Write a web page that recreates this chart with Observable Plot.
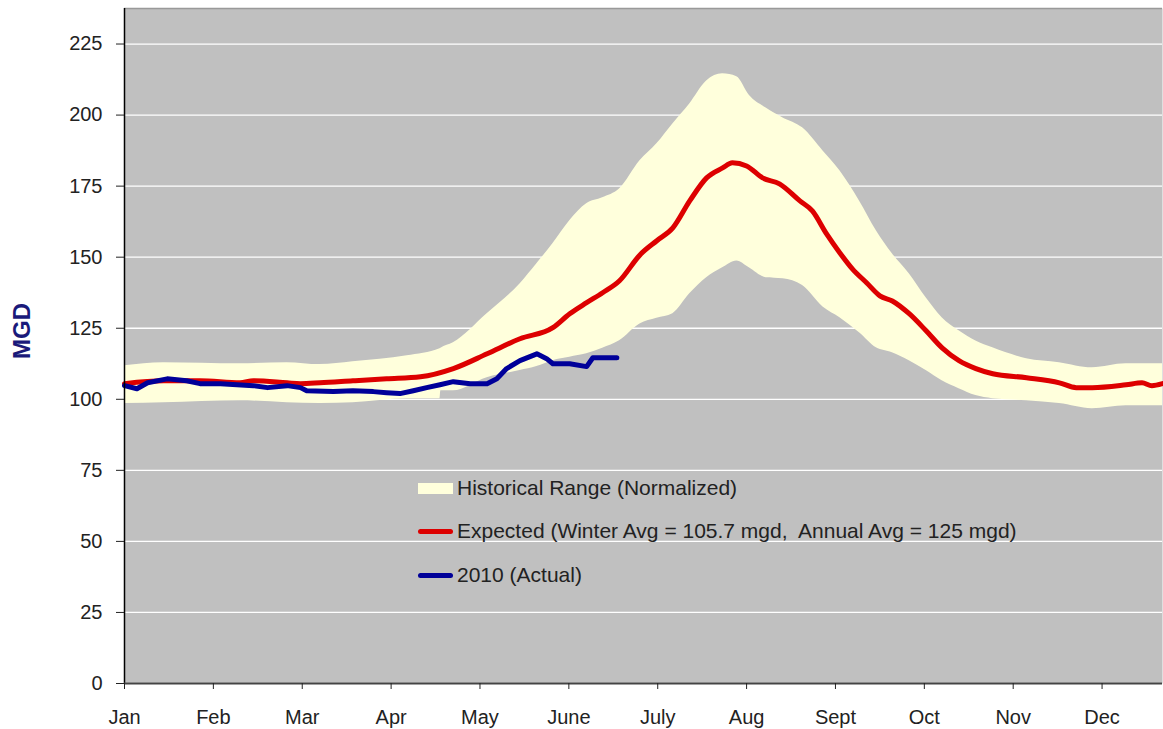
<!DOCTYPE html>
<html>
<head>
<meta charset="utf-8">
<script src="https://cdn.jsdelivr.net/npm/d3@7"></script>
<script src="https://cdn.jsdelivr.net/npm/@observablehq/plot@0.6"></script>
<style>
  html, body { margin: 0; padding: 0; background: #fff; }
  #wrap { position: relative; width: 1163px; height: 729px; font-family: "Liberation Sans", Arial, sans-serif; }
  .leg { position: absolute; left: 418px; display: flex; align-items: center; font-size: 21px; color: #222; white-space: pre; height: 24px; }
  .sw { width: 35px; margin-right: 4px; }
</style>
</head>
<body>
<div id="wrap"></div>
<script>
// Month labels (x axis), months measured as fractional months from Jan 1
const monthLabels = ["Jan","Feb","Mar","Apr","May","June","July","Aug","Sept","Oct","Nov","Dec"];
const monthTicks = [0,1,2,3,4,5,6,7,8,9,10,11];
const yTicks = [0,25,50,75,100,125,150,175,200,225];

// Historical range band
const bandMonth = [0.00,0.44,1.30,1.83,2.20,2.57,3.18,3.55,3.56,3.70,4.08,4.45,4.64,4.82,5.01,5.20,5.38,5.57,5.80,5.99,6.17,6.36,6.55,6.73,6.89,7.03,7.22,7.41,7.63,7.86,8.05,8.27,8.46,8.64,8.83,9.02,9.20,9.39,9.58,9.77,10.15,10.52,10.89,11.27,11.68];
const bandUpper = [111.8,112.9,112.5,112.9,112.2,113.2,115.3,117.8,118.0,119.9,130.1,140.6,147.7,154.7,162.8,168.8,170.9,174.0,183.9,189.9,196.9,203.9,212.0,214.5,213.5,207.0,202.5,199.0,195.5,187.4,180.4,169.8,159.3,151.2,144.2,135.7,128.7,124.1,120.5,118.1,114.3,112.9,111.1,112.5,112.5];
const bandLower = [98.5,98.8,99.5,98.8,98.5,98.8,100.2,100.2,103.0,103.0,107.6,110.1,111.5,113.6,114.8,116.0,118.0,120.6,126.5,128.5,130.1,137.1,142.8,146.3,148.7,146.3,142.8,142.4,140.0,132.5,128.7,123.4,118.1,116.4,113.6,110.1,106.5,103.7,101.3,100.2,99.5,98.5,96.7,97.7,97.7];

// Expected
const expMonth = [0.00,0.44,0.85,1.30,1.45,1.83,1.98,2.20,2.57,2.95,3.33,3.70,4.08,4.45,4.82,5.01,5.20,5.38,5.57,5.80,5.99,6.17,6.36,6.55,6.73,6.84,7.00,7.18,7.37,7.60,7.74,7.90,8.05,8.19,8.35,8.50,8.64,8.83,9.02,9.20,9.39,9.58,9.77,10.15,10.52,10.71,10.89,11.27,11.45,11.56,11.68];
const expValue = [105.5,106.5,106.5,105.8,106.5,105.8,105.5,105.8,106.5,107.2,107.9,110.8,116.0,121.3,125.2,130.1,134.0,137.5,141.7,150.8,155.8,160.3,169.8,177.9,181.4,183.2,182.1,177.9,175.8,169.8,166.3,158.2,151.5,145.9,141.0,136.4,134.6,130.1,124.1,118.1,113.6,110.8,109.0,107.6,105.8,104.1,104.1,105.1,105.8,104.8,105.5];

// 2010 actual
const actMonth = [0.00,0.14,0.26,0.48,0.70,0.85,1.08,1.45,1.61,1.83,1.98,2.05,2.35,2.57,2.80,2.95,3.10,3.25,3.40,3.55,3.70,3.89,4.08,4.19,4.30,4.45,4.64,4.75,4.82,5.01,5.20,5.27,5.43,5.54];
const actValue = [104.8,103.7,105.8,107.2,106.5,105.5,105.5,104.8,104.1,104.8,104.1,103.0,102.7,103.0,102.7,102.3,102.0,103.0,104.1,105.1,106.2,105.5,105.5,107.2,110.8,113.6,116.0,114.3,112.5,112.5,111.5,114.6,114.6,114.6];

const band = bandMonth.map((m, i) => ({m, lo: bandLower[i], hi: bandUpper[i]}));
const expected = expMonth.map((m, i) => ({m, v: expValue[i]}));
const actual = actMonth.map((m, i) => ({m, v: actValue[i]}));

const yMax = 237.5;
const chart = Plot.plot({
  width: 1163, height: 729,
  marginLeft: 124, marginRight: 1, marginTop: 8, marginBottom: 46,
  style: {fontFamily: "'Liberation Sans', Arial, sans-serif", fontSize: "20px", color: "#222", background: "white", overflow: "visible"},
  x: {domain: [0, 11.68]},
  y: {domain: [0, yMax]},
  marks: [
    Plot.frame({fill: "#c0c0c0", stroke: null}),
    Plot.gridY(yTicks, {stroke: "white", strokeOpacity: 1, strokeWidth: 1.3}),
    Plot.areaY(band, {x: "m", y1: "lo", y2: "hi", fill: "#ffffdc", curve: "monotone-x"}),
    Plot.lineY(expected, {x: "m", y: "v", stroke: "#dd0000", strokeWidth: 5, curve: "monotone-x"}),
    Plot.lineY(actual, {x: "m", y: "v", stroke: "#000099", strokeWidth: 5}),
    Plot.ruleY([yMax], {stroke: "#999", strokeWidth: 1.5}),
    Plot.ruleX([0], {stroke: "black", strokeWidth: 1.5}),
    Plot.ruleY([0], {stroke: "#444", strokeWidth: 2}),
    Plot.axisY(yTicks, {tickSize: 8, tickPadding: 14, label: null, stroke: "#222", fontSize: 20}),
    Plot.axisX(monthTicks, {tickFormat: i => monthLabels[i], tickSize: 6, tickPadding: 20, label: null, stroke: "#222", fontSize: 20}),
    Plot.text(["MGD"], {frameAnchor: "left", textAnchor: "middle", lineAnchor: "middle", dx: -102, dy: -15, rotate: -90, fontWeight: "bold", fill: "#1a1a7a", fontSize: 24})
  ]
});
const wrap = document.getElementById("wrap");
wrap.appendChild(chart);

const legendItems = [
  {label: "Historical Range (Normalized)", type: "box", color: "#ffffdc", cy: 488},
  {label: "Expected (Winter Avg = 105.7 mgd,  Annual Avg = 125 mgd)", type: "line", color: "#dd0000", cy: 531},
  {label: "2010 (Actual)", type: "line", color: "#000099", cy: 575}
];
for (const it of legendItems) {
  const row = document.createElement("div");
  row.className = "leg";
  row.style.top = (it.cy - 12) + "px";
  const sw = document.createElement("div");
  sw.className = "sw";
  sw.style.background = it.color;
  sw.style.height = it.type === "box" ? "11px" : "5px";
  sw.style.borderRadius = it.type === "box" ? "0" : "3px";
  row.appendChild(sw);
  const t = document.createElement("span");
  t.textContent = it.label;
  row.appendChild(t);
  wrap.appendChild(row);
}
</script>
</body>
</html>
